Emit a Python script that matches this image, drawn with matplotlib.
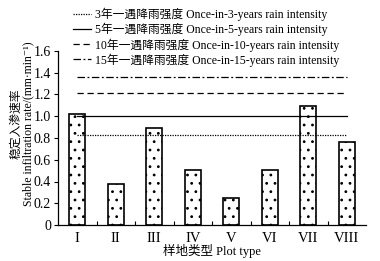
import numpy as np
import matplotlib
matplotlib.use('Agg')
import matplotlib.pyplot as plt
from matplotlib.ticker import FixedLocator, FuncFormatter

plt.rcParams['font.family'] = ['Liberation Serif', 'Noto Sans CJK SC', 'DejaVu Sans']
plt.rcParams['hatch.linewidth'] = 0.8

# data
plot_types = ['I', 'II', 'III', 'IV', 'V', 'VI', 'VII', 'VIII']
rates = [1.02, 0.38, 0.89, 0.51, 0.25, 0.51, 1.09, 0.76]
ref_values = [0.83, 1.00, 1.21, 1.36]
ref_labels = ['3年一遇降雨强度 Once-in-3-years rain intensity',
              '5年一遇降雨强度 Once-in-5-years rain intensity',
              '10年一遇降雨强度 Once-in-10-years rain intensity',
              '15年一遇降雨强度 Once-in-15-years rain intensity']
ref_styles = [(0, (1, 1)), '-', (0, (5, 3)), (0, (6, 2, 1.5, 2))]

fig = plt.figure(figsize=(3.8, 2.61), dpi=100)
ax = fig.add_axes([58/380, 1-225/261, 308/380, 174/261])

x = np.arange(1, len(rates) + 1)
ax.bar(x, rates, width=0.41, facecolor='white', edgecolor='black',
       linewidth=1.2, hatch='..')

handles = []
for v, ls, lab in zip(ref_values, ref_styles, ref_labels):
    h, = ax.plot([x[0], x[-1]], [v, v], color='black', linestyle=ls,
                 linewidth=0.9, label=lab)
    handles.append(h)

ax.set_xlim(0.5, 8.5)
ax.set_ylim(0, 1.6)
ax.set_yticks(np.arange(0, 1.61, 0.2))
ax.yaxis.set_major_formatter(FuncFormatter(lambda v, p: '0' if abs(v) < 1e-9 else f'{v:.1f}'))
ax.set_xticks(x)
ax.set_xticklabels(plot_types)
ax.xaxis.set_minor_locator(FixedLocator(x[:-1] + 0.5))
ax.tick_params(axis='x', which='major', length=0, labelsize=10.5, pad=5)
ax.tick_params(axis='x', which='minor', direction='in', length=3, width=0.8)
ax.tick_params(axis='y', direction='out', length=3, width=0.8, labelsize=10, pad=2)
for s in ['top', 'right']:
    ax.spines[s].set_visible(False)
for s in ['left', 'bottom']:
    ax.spines[s].set_linewidth(0.9)

fig.text(212/380, 1-251/261, '样地类型 Plot type', ha='center', va='center', fontsize=9)
fig.text(22/380, 1-124/261, '稳定入渗速率\nStable infiltration rate/(mm·min⁻¹)',
         rotation=90, ha='center', va='center', multialignment='center',
         fontsize=8.5, linespacing=1.0)

fig.legend(handles=handles, loc='upper left', bbox_to_anchor=(73/380, 1-8/261),
           frameon=False, fontsize=8.5, handlelength=1.5, handletextpad=0.4,
           labelspacing=0.15, borderpad=0, borderaxespad=0)

fig.savefig('out.png', dpi=100)
